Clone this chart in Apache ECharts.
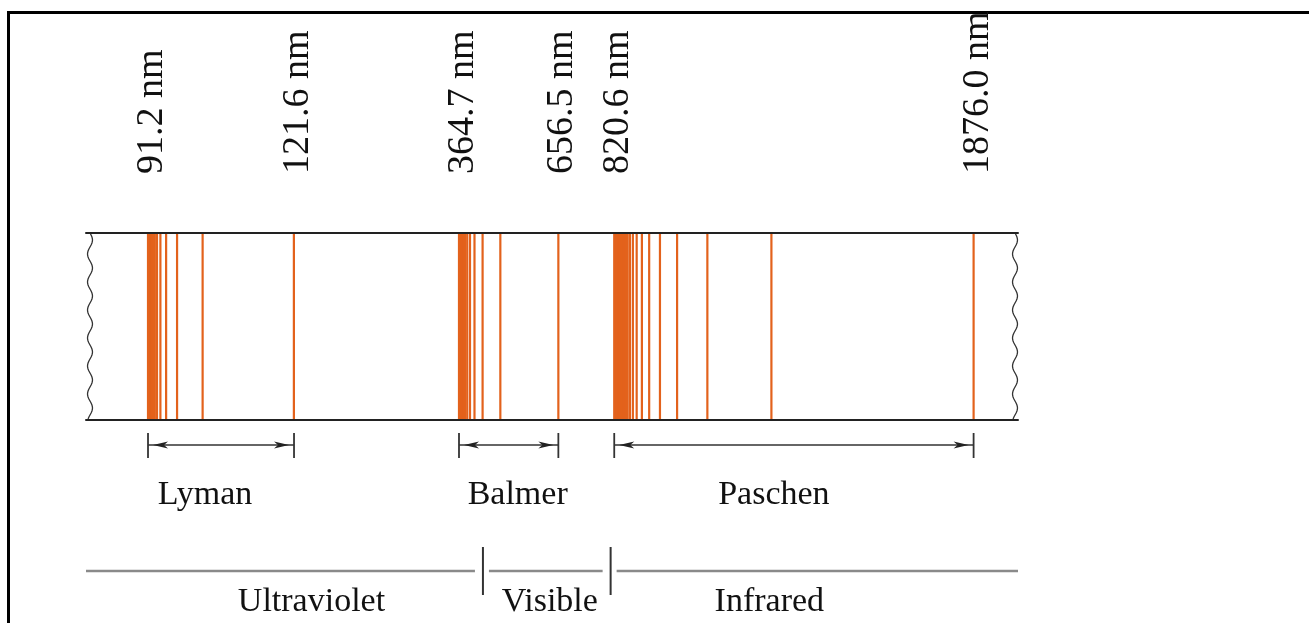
<!DOCTYPE html>
<html>
<head>
<meta charset="utf-8">
<script src="https://cdn.jsdelivr.net/npm/echarts@6/dist/echarts.min.js"></script>
<style>
html,body{margin:0;padding:0;background:#fff;}
#frame{position:absolute;left:7px;top:11px;width:1302px;height:612px;border-top:3px solid #000;border-left:3px solid #000;box-sizing:border-box;}
#chart{position:absolute;left:0;top:0;width:1309px;height:623px;}
</style>
</head>
<body>
<div id="frame"></div>
<div id="chart"></div>
<script>
// ---- data (wavelengths in nm) ----
const lymanLines = [121.57, 102.57, 97.25, 94.97, 93.78, 93.07, 92.62, 92.31, 92.10, 91.94, 91.81, 91.72, 91.64, 91.58, 91.53, 91.46, 91.40, 91.35, 91.31, 91.28, 91.2];
const balmerLines = [656.5, 486.1, 434.0, 410.2, 397.0, 388.9, 383.5, 379.8, 377.1, 375.0, 373.4, 372.2, 371.2, 370.4, 369.2, 368.3, 367.4, 366.8, 366.2, 364.7];
const paschenLines = [1876.0, 1282.2, 1094.1, 1005.2, 954.9, 923.2, 901.8, 886.5, 875.3, 866.7, 860.1, 854.8, 850.5, 847.0, 844.0, 841.6, 839.5, 837.7, 836.1, 834.8, 833.6, 832.6, 831.7, 830.1, 828.9, 827.4, 826.3, 825.2, 820.6];
const lymanLabelValues = [91.2, 121.6];
const lymanLabelTexts = ['91.2 nm', '121.6 nm'];
const otherLabelValues = [364.7, 656.5, 820.6, 1876.0];
const otherLabelTexts = ['364.7 nm', '656.5 nm', '820.6 nm', '1876.0 nm'];
const lymanName = ['Lyman'];
const lymanRange = [[91.2, 121.6]];
const otherNames = ['Balmer', 'Paschen'];
const otherRanges = [[364.7, 656.5], [820.6, 1876.0]];
const regionNames = ['Ultraviolet', 'Visible', 'Infrared'];
const regionBounds = [435, 810];

// ---- style / layout ----
const LINE_COLOR = '#e3621c';
const INK = '#111';
const FONT = '"Liberation Serif", "Times New Roman", serif';
const BAND_LEFT = 86, BAND_TOP = 233, BAND_H = 187;

const chart = echarts.init(document.getElementById('chart'), null, {renderer: 'canvas'});

function axisCommon(grid, pos, min, max) {
  return {
    type: 'value', gridIndex: grid, position: pos, min: min, max: max,
    axisLine: {show: true, onZero: false, lineStyle: {color: '#222', width: 2}},
    axisTick: {show: false}, axisLabel: {show: false}, splitLine: {show: false}
  };
}

function spectrum(idx, values) {
  return {
    type: 'custom', xAxisIndex: idx, yAxisIndex: idx, silent: true, animation: false,
    data: values.map(v => [v, 1]),
    renderItem: (params, api) => {
      const a = api.coord([api.value(0), 0]);
      const b = api.coord([api.value(0), 1]);
      return {type: 'line', shape: {x1: a[0], y1: a[1] - 1, x2: b[0], y2: b[1] + 1},
        style: {stroke: LINE_COLOR, lineWidth: 2.2}};
    }
  };
}

function wlLabels(idx, values, texts) {
  return {
    type: 'custom', xAxisIndex: idx, yAxisIndex: idx, silent: true, animation: false,
    data: values.map(v => [v, 1]),
    renderItem: (params, api) => {
      const p = api.coord([api.value(0), 1]);
      return {type: 'text', x: p[0] + 4, y: p[1] - 59, rotation: Math.PI / 2,
        style: {text: texts[params.dataIndex], font: '38px ' + FONT, fill: INK,
          align: 'left', verticalAlign: 'middle'}};
    }
  };
}

function rangeArrows(idx, ranges, names, dxs) {
  return {
    type: 'custom', xAxisIndex: idx, yAxisIndex: idx, silent: true, animation: false,
    data: ranges.map(r => [r[0], r[1]]),
    encode: {x: [0, 1]},
    renderItem: (params, api) => {
      const a = api.coord([api.value(0), 0]);
      const b = api.coord([api.value(1), 0]);
      const y = a[1] + 25, x1 = a[0], x2 = b[0];
      const st = {stroke: '#333', lineWidth: 1.4};
      const head = (tip, dir) => ({type: 'polygon', shape: {points: [
        [tip, y], [tip + dir * 15, y - 3.5], [tip + dir * 11, y], [tip + dir * 15, y + 3.5]]},
        style: {fill: '#222'}});
      return {type: 'group', children: [
        {type: 'line', shape: {x1: x1, y1: y, x2: x2, y2: y}, style: st},
        {type: 'line', shape: {x1: x1, y1: y - 12, x2: x1, y2: y + 13}, style: {stroke: '#333', lineWidth: 1.8}},
        {type: 'line', shape: {x1: x2, y1: y - 12, x2: x2, y2: y + 13}, style: {stroke: '#333', lineWidth: 1.8}},
        head(x1 + 5, 1), head(x2 - 5, -1),
        {type: 'text', x: (x1 + x2) / 2 + dxs[params.dataIndex], y: y + 50,
          style: {text: names[params.dataIndex], font: '34px ' + FONT, fill: INK, align: 'center', verticalAlign: 'middle'}}
      ]};
    }
  };
}

const REGION_DX = [27, 3, -45];
const regionSeries = {
  type: 'custom', xAxisIndex: 1, yAxisIndex: 1, silent: true, animation: false,
  data: regionBounds.map(v => [v, 0]),
  renderItem: (params, api) => {
    const i = params.dataIndex;
    const p = api.coord([api.value(0), 0]);
    const x = p[0], y = p[1] + 151;
    const prevX = i === 0 ? BAND_LEFT : api.coord([regionBounds[i - 1], 0])[0];
    const gray = {stroke: '#8a8a8a', lineWidth: 2.5};
    const kids = [
      {type: 'line', shape: {x1: x, y1: y - 24, x2: x, y2: y + 24}, style: {stroke: '#333', lineWidth: 2}},
      {type: 'line', shape: {x1: prevX + (i === 0 ? 0 : 6), y1: y, x2: x - 8, y2: y}, style: gray},
      {type: 'text', x: (prevX + x) / 2 + REGION_DX[i], y: y + 31,
        style: {text: regionNames[i], font: '34px ' + FONT, fill: INK, align: 'center', verticalAlign: 'middle'}}
    ];
    if (i === regionBounds.length - 1) {
      const endX = params.coordSys.x + params.coordSys.width;
      kids.push({type: 'line', shape: {x1: x + 6, y1: y, x2: endX, y2: y}, style: gray});
      kids.push({type: 'text', x: (x + endX) / 2 + REGION_DX[i + 1], y: y + 31,
        style: {text: regionNames[i + 1], font: '34px ' + FONT, fill: INK, align: 'center', verticalAlign: 'middle'}});
    }
    return {type: 'group', children: kids};
  }
};

function wavy(cx) {
  const pts = [];
  for (let y = BAND_TOP; y <= BAND_TOP + BAND_H; y += 2) {
    pts.push([cx + 2.5 * Math.sin((y - BAND_TOP) / 28 * 2 * Math.PI), y]);
  }
  return {type: 'polyline', silent: true, shape: {points: pts}, style: {stroke: '#333', lineWidth: 1.3, fill: null}};
}

const option = {
  animation: false,
  grid: [
    {left: BAND_LEFT, top: BAND_TOP, width: 294, height: BAND_H},
    {left: 380, top: BAND_TOP, width: 638, height: BAND_H}
  ],
  xAxis: [
    axisCommon(0, 'bottom', 78.29, 139.5),
    axisCommon(1, 'bottom', 132.7, 2006.4),
    axisCommon(0, 'top', 78.29, 139.5),
    axisCommon(1, 'top', 132.7, 2006.4)
  ],
  yAxis: [
    {type: 'value', gridIndex: 0, min: 0, max: 1, show: false},
    {type: 'value', gridIndex: 1, min: 0, max: 1, show: false}
  ],
  graphic: [wavy(90), wavy(1015)],
  series: [
    spectrum(0, lymanLines),
    spectrum(1, balmerLines),
    spectrum(1, paschenLines),
    wlLabels(0, lymanLabelValues, lymanLabelTexts),
    wlLabels(1, otherLabelValues, otherLabelTexts),
    rangeArrows(0, lymanRange, lymanName, [-16]),
    rangeArrows(1, otherRanges, otherNames, [9, -20]),
    regionSeries
  ]
};
chart.setOption(option);
</script>
</body>
</html>
